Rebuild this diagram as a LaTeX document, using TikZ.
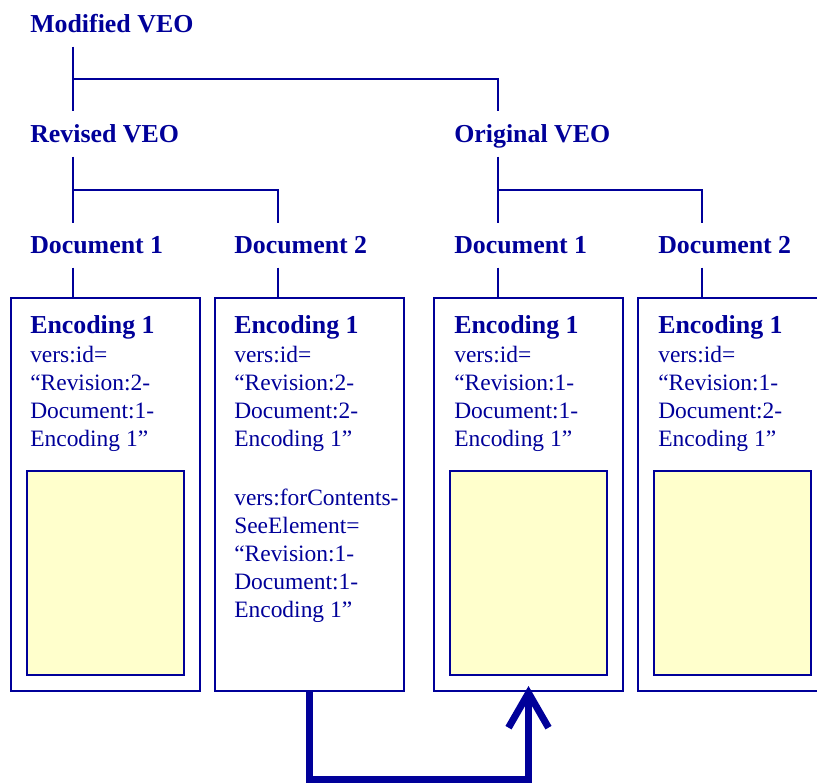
\documentclass[tikz,border=0pt]{standalone}
\usepackage{fontspec}
\setmainfont{Liberation Serif}
\usetikzlibrary{arrows.meta}
\usetikzlibrary{positioning}
\definecolor{vblue}{RGB}{0,0,153}
\definecolor{vyellow}{RGB}{255,255,204}

\begin{document}
\begin{tikzpicture}[x=0.75pt, y=-0.75pt,
    head/.style={vblue, anchor=base west, inner xsep=0pt, inner ysep=10pt, text depth=0pt,
      font=\fontsize{19.4}{23}\selectfont\bfseries},
    attr/.style={vblue, anchor=base west, inner sep=0pt, align=left,
      font=\fontsize{17.6}{21}\selectfont},
    encbox/.style={draw=vblue, line width=1.5pt, minimum width=141.75pt,
      minimum height=294.75pt, inner sep=0pt},
    pad/.style={draw=vblue, fill=vyellow, line width=1.5pt, minimum width=118pt,
      minimum height=153pt, inner sep=0pt},
    tree/.style={vblue, line width=1.5pt},
    link/.style={vblue, line width=5.25pt, shorten >=-4.5pt,
      -{Straight Barb[length=26pt, width=30pt]}}]
    \useasboundingbox (0, 0) rectangle (817, 784);
    \clip (0, 0) rectangle (817, 784);

    % columns of the tree
    \coordinate (col1) at (73, 0);
    \coordinate (col2) at (278, 0);
    \coordinate (col3) at (498, 0);
    \coordinate (col4) at (702, 0);

    \node [head] (mveo) at (30, 33) {Modified VEO};
    \node [head] (rveo) at (30, 143) {Revised VEO};
    \node [head] (oveo) at (454, 143) {Original VEO};
    \node [head] (rdoc1) at (30, 254) {Document 1};
    \node [head] (rdoc2) at (234, 254) {Document 2};
    \node [head] (odoc1) at (454, 254) {Document 1};
    \node [head] (odoc2) at (658, 254) {Document 2};

    \node [encbox] (b1) at (105.5, 494.5) {};
    \node [encbox] (b2) at (309.5, 494.5) {};
    \node [encbox] (b3) at (528.5, 494.5) {};
    \node [encbox] (b4) at (732.5, 494.5) {};

    \node [pad, above=12pt of b1.south] (y1) {};
    \node [pad, above=12pt of b3.south] (y3) {};
    \node [pad, above=12pt of b4.south] (y4) {};

    % tree lines
    \draw [tree] (col1 |- mveo.south) -- coordinate[pos=.5] (j0) (col1 |- rveo.north);
    \draw [tree] (j0) -| (col3 |- oveo.north);
    \draw [tree] (col1 |- rveo.south) -- coordinate[pos=.5] (j1) (col1 |- rdoc1.north);
    \draw [tree] (j1) -| (col2 |- rdoc2.north);
    \draw [tree] (col3 |- oveo.south) -- coordinate[pos=.5] (j2) (col3 |- odoc1.north);
    \draw [tree] (j2) -| (col4 |- odoc2.north);
    \draw [tree] (col1 |- rdoc1.south) -- (col1 |- b1.north);
    \draw [tree] (col2 |- rdoc2.south) -- (col2 |- b2.north);
    \draw [tree] (col3 |- odoc1.south) -- (col3 |- b3.north);
    \draw [tree] (col4 |- odoc2.south) -- (col4 |- b4.north);

    \node [head, inner ysep=0pt] (enc1) at (30, 333) {Encoding 1};
    \node [head, inner ysep=0pt] (enc2) at (234, 333) {Encoding 1};
    \node [head, inner ysep=0pt] (enc3) at (454, 333) {Encoding 1};
    \node [head, inner ysep=0pt] (enc4) at (658, 333) {Encoding 1};

    % base of a multi-line node = its last line
    \node [attr] (id1) at (30, 446) {vers:id=\\“Revision:2-\\Document:1-\\Encoding 1”};
    \node [attr] (id2) at (234, 446) {vers:id=\\“Revision:2-\\Document:2-\\Encoding 1”};
    \node [attr] (id3) at (454, 446) {vers:id=\\“Revision:1-\\Document:1-\\Encoding 1”};
    \node [attr] (id4) at (658, 446) {vers:id=\\“Revision:1-\\Document:2-\\Encoding 1”};
    \node [attr] (see2) at (234, 617) {vers:forContents-\\SeeElement=\\“Revision:1-\\Document:1-\\Encoding 1”};

    \draw [link] (b2.south) -- ++(0, 87) -| (b3.south);
  \end{tikzpicture}
\end{document}
